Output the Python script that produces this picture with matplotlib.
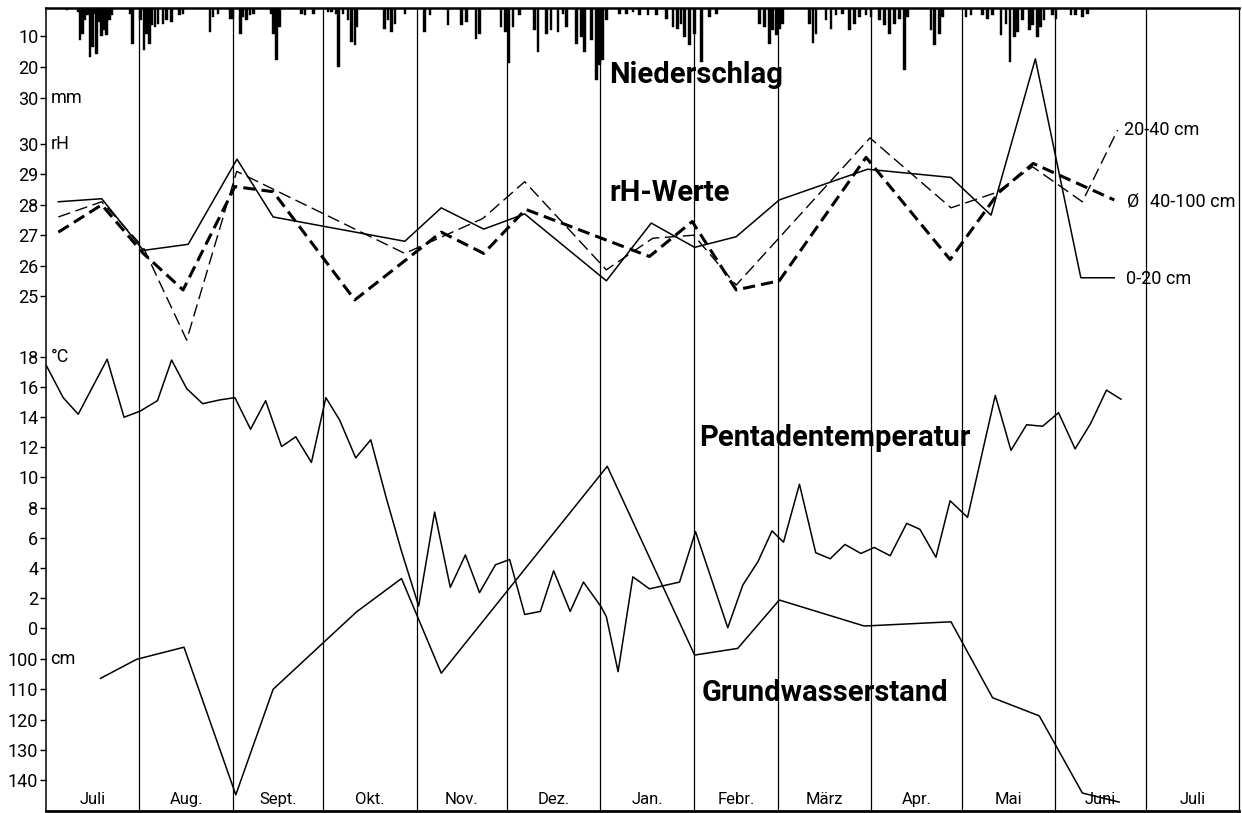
import matplotlib
matplotlib.use("Agg")
import matplotlib.pyplot as plt
import numpy as np

plt.rcParams['font.family'] = ['Roboto', 'DejaVu Sans']

# ---------------- data ----------------
months = ["Juli", "Aug.", "Sept.", "Okt.", "Nov.", "Dez.", "Jan.", "Febr.",
          "März", "Apr.", "Mai", "Juni", "Juli"]
month_days = [31, 31, 30, 31, 30, 31, 31, 28, 31, 30, 31, 30, 31]

# Niederschlag (days since 1 July, mm)
precip_day = [7.0, 10.7, 11.3, 12.2, 12.9, 13.7, 14.6, 15.5, 16.3, 16.8, 17.7, 18.5,
              19.2, 20.1, 21.0, 21.8, 28.1, 28.8, 31.4, 32.5, 33.4, 34.3, 35.0, 36.2,
              37.2, 38.9, 40.0, 41.7, 44.4, 45.5, 54.4, 55.5, 57.1, 61.3, 62.1, 64.6,
              65.4, 66.5, 67.7, 68.8, 74.9, 75.6, 76.5, 77.6, 84.8, 85.9, 88.7, 93.6,
              94.8, 96.4, 97.0, 98.6, 100.3, 101.4, 102.5, 103.0, 112.4, 113.5, 114.7,
              115.8, 119.1, 125.7, 127.4, 133.4, 137.9, 139.5, 142.8, 143.9, 151.1,
              152.6, 153.7, 155.0, 157.2, 162.2, 163.3, 166.1, 167.7, 169.9, 171.6,
              172.7, 176.0, 177.7, 178.8, 181.0, 182.7, 183.7, 184.8, 186.0, 190.4,
              192.6, 194.8, 197.0, 199.8, 202.6, 205.9, 208.1, 209.7, 210.8, 211.9,
              213.6, 215.3, 217.5, 220.2, 222.5, 236.8, 238.5, 240.1, 241.2, 242.4,
              243.4, 244.5, 253.4, 254.6, 255.6, 258.9, 260.6, 262.2, 264.4, 266.7,
              268.3, 270.0, 272.2, 273.9, 276.6, 278.3, 279.9, 281.6, 283.3, 284.9,
              286.0, 293.8, 294.9, 296.5, 297.6, 305.4, 307.0, 310.9, 312.5, 314.2,
              317.0, 318.6, 320.0, 321.4, 322.5, 324.1, 326.4, 327.5, 329.1, 330.2,
              331.3, 334.1, 335.2, 340.2, 341.8, 344.0, 345.7]
precip_mm = [1.6, 2.1, 11.3, 9.1, 4.8, 3.2, 16.7, 13.4, 2.7, 15.6, 5.4, 10.0,
             8.1, 9.7, 4.8, 3.2, 2.7, 12.4, 4.8, 14.5, 9.1, 12.4, 6.4, 7.0,
             5.9, 5.9, 4.8, 5.4, 3.2, 2.7, 8.6, 3.8, 2.7, 4.3, 4.3, 9.1,
             3.8, 4.8, 3.2, 2.7, 2.7, 9.1, 17.7, 7.0, 2.7, 3.2, 2.7, 2.1,
             2.1, 2.7, 19.9, 2.7, 4.8, 11.8, 12.9, 7.0, 7.5, 4.8, 8.6,
             5.9, 2.7, 8.6, 3.2, 6.4, 6.4, 5.4, 10.8, 9.1, 7.0,
             8.6, 18.8, 7.0, 3.2, 8.1, 15.1, 9.1, 8.1, 8.6, 2.7,
             7.0, 12.4, 10.2, 15.1, 11.3, 24.2, 19.4, 17.7, 4.8, 2.7,
             2.7, 2.1, 3.2, 3.2, 3.2, 4.3, 7.0, 7.5, 5.9, 10.2,
             12.9, 9.1, 18.3, 3.8, 2.7, 5.9, 7.0, 12.4, 8.1, 9.7,
             7.5, 5.9, 5.9, 12.0, 9.1, 4.8, 7.5, 3.2, 2.7, 8.1,
             5.9, 3.8, 3.2, 3.8, 4.8, 6.4, 9.1, 5.9, 4.3, 21.0,
             3.8, 8.1, 12.9, 9.1, 3.8, 3.8, 3.2, 3.2, 4.3, 3.2,
             9.7, 5.9, 18.3, 10.2, 8.6, 4.8, 8.1, 6.4, 10.2, 7.0,
             4.8, 3.2, 4.3, 3.2, 3.2, 3.8, 2.7]

# rH-Werte
rh_0_20_day = [4.1, 18.5, 32.3, 47.2, 63.4, 75.4, 119.1, 131.2, 145.3, 158.9, 186.0,
               200.9, 215.3, 229.1, 243.4, 272.7, 300.4, 313.7, 328.4, 343.5, 354.6]
rh_0_20 = [28.1, 28.2, 26.5, 26.7, 29.5, 27.6, 26.8, 27.9, 27.2, 27.7, 25.5,
           27.4, 26.6, 26.95, 28.16, 29.17, 28.9, 27.66, 32.8, 25.6, 25.6]

rh_20_40_day = [4.1, 18.5, 32.3, 46.7, 63.3, 119.1, 145.0, 158.9, 186.0, 201.4,
                215.0, 229.1, 273.5, 300.4, 315.3, 327.5, 344.0, 355.7]
rh_20_40 = [27.6, 28.1, 26.6, 23.55, 29.1, 26.4, 27.55, 28.76, 25.86, 26.9,
            27.0, 25.36, 30.2, 27.9, 28.4, 29.25, 28.1, 30.46]

rh_40_100_day = [4.1, 18.5, 32.3, 45.5, 62.7, 75.4, 102.5, 131.2, 145.3, 159.2,
                 200.3, 214.5, 229.1, 243.4, 272.2, 300.1, 316.2, 327.7, 354.6]
rh_40_100 = [27.1, 28.0, 26.4, 25.2, 28.6, 28.43, 24.87, 27.1, 26.4, 27.85,
             26.3, 27.45, 25.2, 25.5, 29.56, 26.2, 28.4, 29.36, 28.16]

# Pentadentemperatur (°C)
temp_day = [0.2, 5.7, 10.7, 15.7, 20.3, 25.9, 31.2, 37.0, 41.7, 46.7, 52.0, 57.7,
            62.7, 67.9, 72.9, 78.2, 82.9, 88.1, 92.9, 97.5, 102.8, 107.8, 113.0,
            118.0, 123.7, 129.0, 134.2, 139.2, 143.9, 149.2, 153.9, 158.9, 164.1,
            168.5, 174.0, 178.4, 184.3, 186.0, 189.9, 194.8, 200.3, 210.3, 215.6,
            226.3, 231.3, 236.3, 241.0, 244.8, 250.1, 255.5, 260.3, 265.2, 270.5,
            274.9, 280.2, 285.7, 290.1, 295.4, 300.1, 305.9, 315.1, 320.3, 325.5,
            330.8, 336.1, 341.6, 346.8, 352.0, 356.8]
temp_c = [17.4, 15.3, 14.2, 16.1, 17.85, 14.0, 14.4, 15.1, 17.8, 15.9, 14.9, 15.15,
          15.3, 13.2, 15.1, 12.05, 12.7, 11.0, 15.3, 13.8, 11.3, 12.5, 8.6,
          5.1, 1.46, 7.7, 2.7, 4.85, 2.35, 4.2, 4.55, 0.9, 1.1,
          3.8, 1.1, 3.05, 1.4, 0.75, -2.9, 3.4, 2.6, 3.05, 6.4,
          0.02, 2.85, 4.4, 6.45, 5.7, 9.55, 5.0, 4.6, 5.55, 4.95,
          5.35, 4.8, 6.95, 6.55, 4.7, 8.45, 7.35, 15.45, 11.8, 13.5,
          13.4, 14.3, 11.9, 13.6, 15.8, 15.2]

# Grundwasserstand (cm unter Flur)
gw_day = [18.1, 30.1, 45.8, 63.0, 75.4, 103.1, 118.0, 131.2, 186.3, 215.3, 229.6,
          243.4, 271.6, 300.4, 314.2, 329.7, 344.0, 356.2]
gw_cm = [106.4, 100.1, 96.1, 144.9, 110.0, 84.4, 73.4, 104.7, 36.3, 98.7, 96.5,
         80.5, 89.1, 87.7, 112.8, 118.8, 144.3, 147.3]

precip_ticks = [10, 20, 30]
rh_ticks = [30, 29, 28, 27, 26, 25]
temp_ticks = [18, 16, 14, 12, 10, 8, 6, 4, 2, 0]
gw_ticks = [100, 110, 120, 130, 140]

# ---------------- layout ----------------
W, H = 1242, 813
L, R, T, B = 46, 1239, 8, 811
rect = [L / W, 1 - B / H, (R - L) / W, (B - T) / H]


def ylim_for(v1, p1, v2, p2):
    s = (v2 - v1) / (p2 - p1)
    return v1 + (B - p1) * s, v1 + (T - p1) * s


fig = plt.figure(figsize=(W / 100, H / 100), dpi=100)
fig.patch.set_facecolor("white")

total_days = sum(month_days)
bounds = np.cumsum([0] + month_days)

ax0 = fig.add_axes(rect)
ax0.set_xlim(0, total_days)
ax0.set_ylim(0, 1)
ax0.set_xticks([])
ax0.set_yticks([])
ax0.spines['left'].set_linewidth(1.1)
ax0.spines['top'].set_linewidth(1.8)
ax0.spines['bottom'].set_linewidth(2.0)
ax0.spines['right'].set_linewidth(0.9)
for b in bounds[1:-1]:
    ax0.axvline(b, color="black", lw=0.9)
for i, m in enumerate(months):
    c = (bounds[i] + bounds[i + 1]) / 2
    ax0.text(c, 0.014, m, transform=ax0.get_xaxis_transform(), ha="center",
             va="center", fontsize=12)


def overlay(ylim, ticks):
    ax = fig.add_axes(rect, sharex=ax0)
    ax.patch.set_visible(False)
    for s in ax.spines.values():
        s.set_visible(False)
    ax.set_ylim(*ylim)
    ax.set_yticks(ticks)
    ax.set_yticklabels([str(t) for t in ticks])
    ax.tick_params(axis="y", which="both", direction="out", length=4, width=1,
                   pad=1.5, labelsize=13)
    ax.tick_params(axis="x", which="both", bottom=False, labelbottom=False)
    return ax


ax_p = overlay(ylim_for(0, 5.5, 30, 98), precip_ticks)
ax_rh = overlay(ylim_for(30, 144, 25, 296), rh_ticks)
ax_t = overlay(ylim_for(18, 357, 0, 628), temp_ticks)
ax_g = overlay(ylim_for(100, 659, 140, 780), gw_ticks)
ax0.set_xlim(0, total_days)

# precipitation bars hanging from the top
ax_p.bar(precip_day, precip_mm, width=0.85, bottom=0, color="black",
         edgecolor="black", linewidth=0.3)

# rH lines
ax_rh.plot(rh_0_20_day, rh_0_20, color="black", lw=1.1)
ax_rh.plot(rh_20_40_day, rh_20_40, color="black", lw=1.0, dashes=(9, 4))
ax_rh.plot(rh_40_100_day, rh_40_100, color="black", lw=2.2, dashes=(4, 2))

# temperature and groundwater
ax_t.plot(temp_day, temp_c, color="black", lw=1.1)
ax_g.plot(gw_day, gw_cm, color="black", lw=1.1)

# unit labels
ax_p.text(1.5, 30, "mm", fontsize=13, va="center", ha="left")
ax_rh.text(1.5, 30, "rH", fontsize=13, va="center", ha="left")
ax_t.text(1.5, 18, "°C", fontsize=13, va="center", ha="left")
ax_g.text(1.5, 100, "cm", fontsize=13, va="center", ha="left")

# panel titles
ax_p.text(187, 22.5, "Niederschlag", fontsize=21, fontweight="bold",
          ha="left", va="center")
ax_rh.text(187, 28.4, "rH-Werte", fontsize=21, fontweight="bold",
           ha="left", va="center")
ax_t.text(216.9, 12.6, "Pentadentemperatur", fontsize=21, fontweight="bold",
          ha="left", va="center")
ax_g.text(217.6, 111.2, "Grundwasserstand", fontsize=21, fontweight="bold",
          ha="left", va="center")

# series labels
ax_rh.text(357.9, 30.46, "20-40 cm", fontsize=13, ha="left", va="center")
ax_rh.text(358.9, 28.1, "Ø", fontsize=13, ha="left", va="center")
ax_rh.text(366.5, 28.1, "40-100 cm", fontsize=13, ha="left", va="center")
ax_rh.text(358.5, 25.56, "0-20 cm", fontsize=13, ha="left", va="center")

fig.savefig("out.png", dpi=100, facecolor="white")
